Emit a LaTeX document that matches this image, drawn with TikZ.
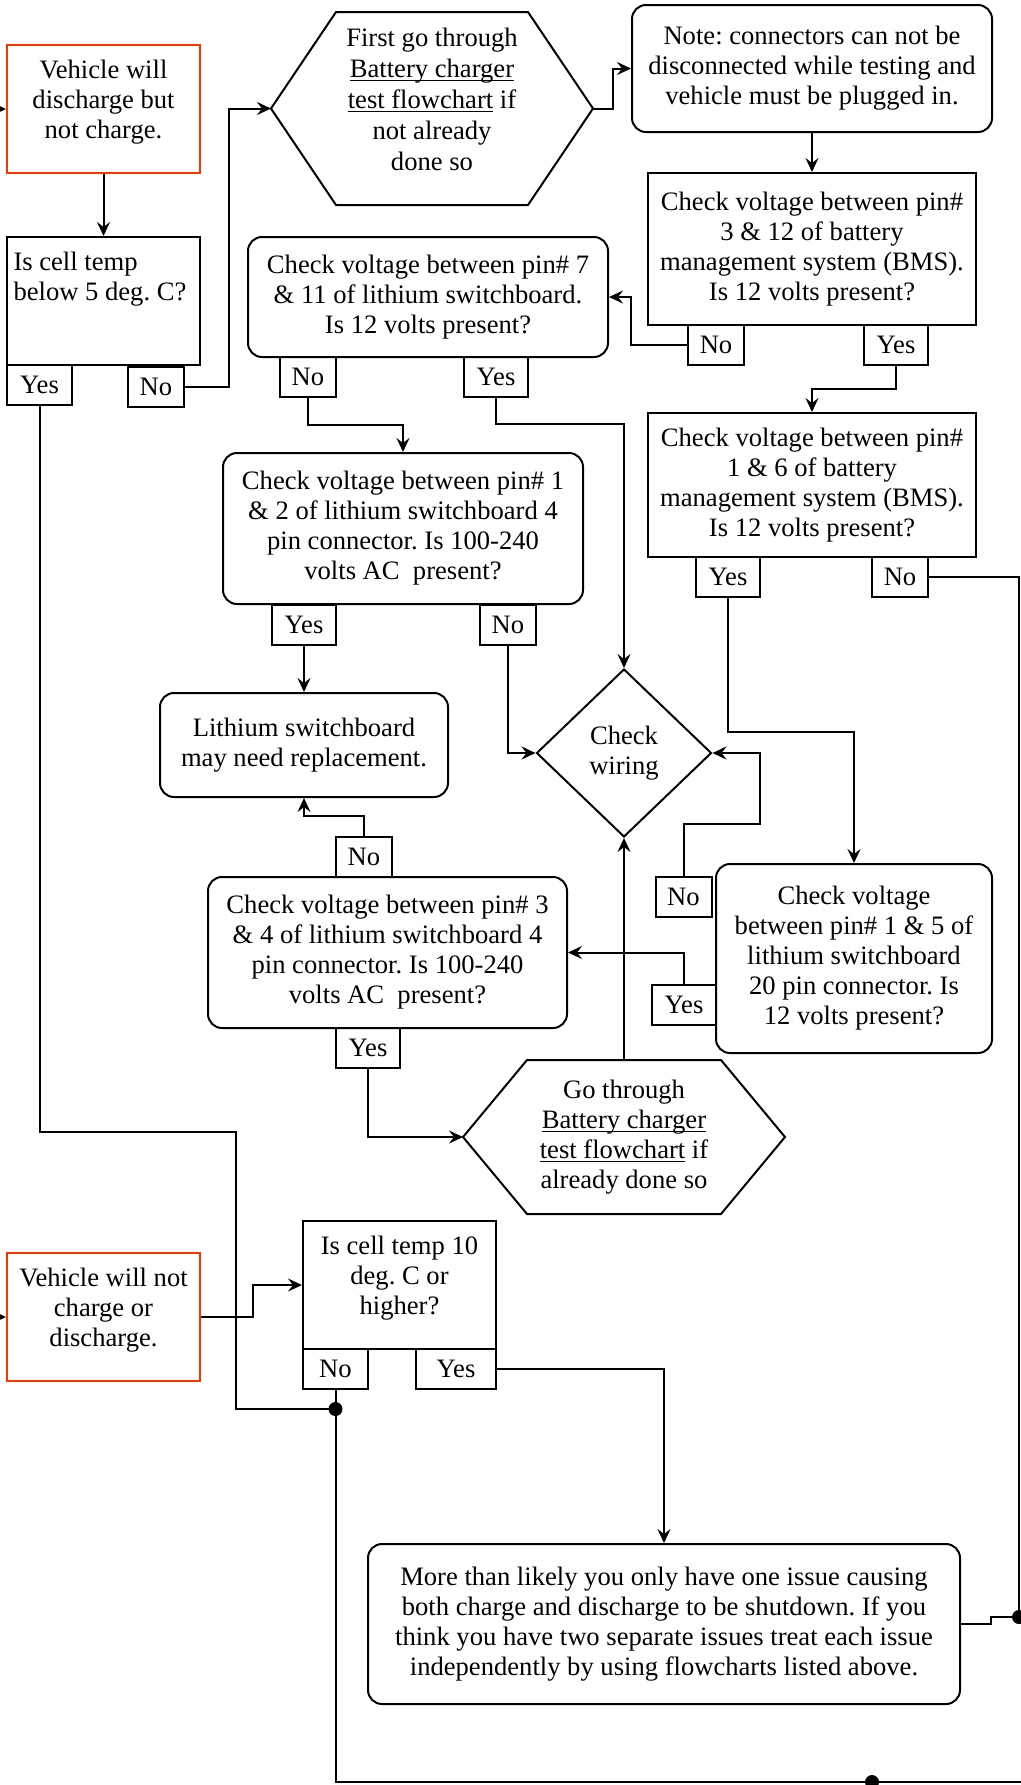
\documentclass[tikz,border=0pt]{standalone}
\usepackage{fontspec}
\setmainfont{Liberation Serif}
\usetikzlibrary{arrows.meta,shapes.geometric}
\definecolor{startred}{RGB}{255,51,0}
\newcommand{\chartfont}{\fontsize{13.3}{15}\selectfont}
\newcommand{\linkul}[1]{\underline{\smash{#1}}}
\newcommand{\hexoutline}[2]{%
  \draw (#1.west) -- ([xshift=#2]#1.north west) -- ([xshift=-#2]#1.north east)
    -- (#1.east) -- ([xshift=-#2]#1.south east) -- ([xshift=#2]#1.south west) -- cycle;}
\frenchspacing

\begin{document}
\begin{tikzpicture}[x=0.5pt,y=-0.5pt,line width=1pt,
    box/.style={draw, align=center, inner sep=0pt, font=\chartfont},
    rbox/.style={box, rounded corners=7pt},
    redbox/.style={box, draw=startred, text depth=10pt},
    lab/.style={draw, inner sep=0pt, minimum width=28pt, minimum height=20pt, font=\chartfont},
    labyes/.style={lab, minimum width=32pt},
    arr/.style={-{Stealth[length=7pt,width=6.5pt,inset=2.5pt]}}]
    \path[use as bounding box, fill=white] (0,0) rectangle (1021,1785);

    \node[redbox, minimum width=96.5pt, minimum height=64pt] (veh1) at (103.5,109) {Vehicle will\\discharge but\\not charge.};
    \node[box, minimum width=96.5pt, minimum height=64pt] (temp1) at (103.5,301)
         {\parbox[c][49pt][t]{90pt}{\raggedright Is cell temp\\below 5 deg. C?}};
    \node[box, draw=none, minimum width=160pt, minimum height=95.5pt, text depth=9pt,
          font=\fontsize{13.3}{15.5}\selectfont] (hexa) at (432,108.5)
         {First go through\\\linkul{Battery charger}\\\linkul{test flowchart} if\\not already\\done so};
    \hexoutline{hexa}{32.5pt}
    \node[rbox, minimum width=180pt, minimum height=63.5pt] (note) at (812,68.5)
         {Note: connectors can not be\\disconnected while testing and\\vehicle must be plugged in.};
    \node[box, minimum width=164pt, minimum height=76pt] (bmsa) at (812,249)
         {Check voltage between pin\#\\3 \& 12 of battery\\management system (BMS).\\Is 12 volts present?};
    \node[box, minimum width=164pt, minimum height=72pt] (bmsb) at (812,485)
         {Check voltage between pin\#\\1 \& 6 of battery\\management system (BMS).\\Is 12 volts present?};
    \node[rbox, minimum width=180pt, minimum height=60pt] (swa) at (428,297)
         {Check voltage between pin\# 7\\\& 11 of lithium switchboard.\\Is 12 volts present?};
    \node[rbox, minimum width=180pt, minimum height=75.5pt] (swb) at (403,528.5)
         {Check voltage between pin\# 1\\\& 2 of lithium switchboard 4\\pin connector. Is 100-240\\volts AC\ \ present?};
    \node[rbox, minimum width=144pt, minimum height=52pt] (repl) at (304,745) {Lithium switchboard\\may need replacement.};
    \node[box, diamond, minimum width=87.5pt, minimum height=84pt] (wire) at (624,753) {Check\\wiring};
    \node[rbox, minimum width=179.5pt, minimum height=75.5pt] (swc) at (387.5,952.5)
         {Check voltage between pin\# 3\\\& 4 of lithium switchboard 4\\pin connector. Is 100-240\\volts AC\ \ present?};
    \node[rbox, minimum width=138pt, minimum height=94.5pt] (swd) at (854,958.5)
         {Check voltage\\between pin\# 1 \& 5 of\\lithium switchboard\\20 pin connector. Is\\12 volts present?};
    \node[box, draw=none, minimum width=160pt, minimum height=76pt] (hexb) at (624,1137)
         {Go through\\\linkul{Battery charger}\\\linkul{test flowchart} if\\already done so};
    \hexoutline{hexb}{32pt}
    \node[redbox, minimum width=96.5pt, minimum height=64pt] (veh2) at (103.5,1317) {Vehicle will not\\charge or\\discharge.};
    \node[box, minimum width=96.5pt, minimum height=64pt] (temp2) at (399.5,1285)
         {\parbox[c][49pt][t]{90pt}{\centering Is cell temp 10\\deg. C or\\higher?}};
    \node[rbox, minimum width=296pt, minimum height=80pt] (more) at (664,1624)
         {More than likely you only have one issue causing\\both charge and discharge to be shutdown. If you\\think you have two separate issues treat each issue\\independently by using flowcharts listed above.};

    \node[labyes, minimum width=32.5pt] (tayes) at (39.5,385) {Yes};
    \node[lab] (tano) at (156,387) {No};
    \node[lab] (bano) at (716,345) {No};
    \node[labyes] (bayes) at (896,345) {Yes};
    \node[labyes] (bbyes) at (728,577) {Yes};
    \node[lab] (bbno) at (900,577) {No};
    \node[lab] (sano) at (308,377) {No};
    \node[labyes] (sayes) at (496,377) {Yes};
    \node[labyes] (sbyes) at (304,624.5) {Yes};
    \node[lab] (sbno) at (508,624.5) {No};
    \node[lab] (scno) at (364,857) {No};
    \node[labyes] (scyes) at (368,1048) {Yes};
    \node[lab] (sdno) at (683.5,897) {No};
    \node[labyes] (sdyes) at (684,1005) {Yes};
    \node[lab, minimum width=32.5pt] (tbno) at (335.5,1369) {No};
    \node[labyes, minimum width=40pt] (tbyes) at (456,1369) {Yes};

    \coordinate (ina) at (-20,109);
    \coordinate (inb) at (-20,1317);
    \coordinate (jl) at (335.5,1409);
    \coordinate (jr) at (1019,1617);
    \coordinate (jb) at (872,1782);

    \draw[arr] (ina) -- (veh1.west);
    \draw[arr] (veh1.south) -- (temp1.north);
    \draw[arr] (tano.east) -- ++(44,0) |- (hexa.west);
    \draw[arr] (hexa.east) -- ++(20,0) |- (note.west);
    \draw[arr] (note.south) -- (bmsa.north);
    \draw[arr] (bano.west) -- ++(-56,0) |- (swa.east);
    \draw[arr] (bayes.south) -- ++(0,23) -| (bmsb.north);
    \draw[arr] (bbyes.south) -- ++(0,134) -| (swd.north);
    \draw (bbno.east) -| (jr);
    \draw (more.east) -- ++(30,0) |- (jr);
    \draw[arr] (sano.south) -- ++(0,27) -| (swb.north);
    \draw[arr] (sayes.south) -- ++(0,26) -| (wire.north);
    \draw[arr] (sbyes.south) -- (repl.north);
    \draw[arr] (sbno.south) |- (wire.west);
    \draw[arr] (sdno.north) -- ++(0,-52) -- ++(76,0) |- (wire.east);
    \draw[arr] (sdyes.north) |- (swc.east);
    \draw[arr] (scno.north) -- ++(0,-20) -| (repl.south);
    \draw[arr] (scyes.south) |- (hexb.west);
    \draw[arr] (hexb.north) -- (wire.south);
    \draw[arr] (inb) -- (veh2.west);
    \draw[arr] (veh2.east) -- ++(52,0) |- (temp2.west);
    \draw (tayes.south) -- ++(0,726) -- ++(196,0) |- (jl);
    \draw (tbno.south) -- (jl) |- (jb) -- ++(160,0);
    \draw[arr] (tbyes.east) -| (more.north);
    \fill (jl) circle (3.5pt) (jr) circle (3.5pt) (jb) circle (3.5pt);
  \end{tikzpicture}
\end{document}
